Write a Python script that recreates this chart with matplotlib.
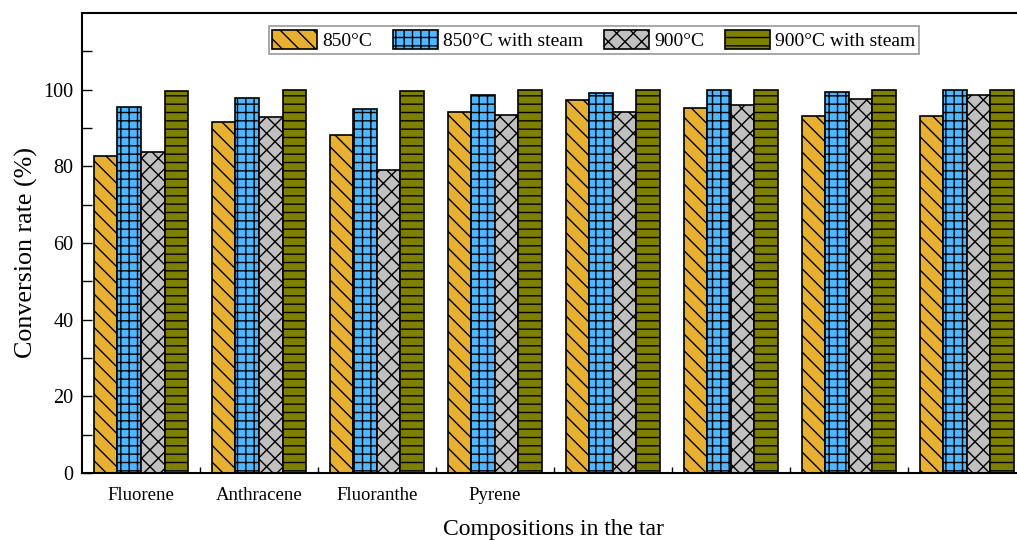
import matplotlib.pyplot as plt
import numpy as np

plt.rcParams['font.family'] = ['Liberation Serif', 'DejaVu Serif']
plt.rcParams['hatch.linewidth'] = 1.0
plt.rcParams['hatch.color'] = 'black'

# tar compositions (only the first four are named on the axis)
groups = ['Fluorene', 'Anthracene', 'Fluoranthe', 'Pyrene', '', '', '', '']
labels = ['850°C', '850°C with steam', '900°C', '900°C with steam']

conv_850 = [82.7, 91.6, 88.2, 94.2, 97.3, 95.2, 93.2, 93.1]
conv_850_steam = [95.4, 97.8, 95.0, 98.5, 99.0, 100.0, 99.3, 100.0]
conv_900 = [83.8, 92.9, 79.0, 93.4, 94.1, 96.1, 97.5, 98.7]
conv_900_steam = [99.6, 99.8, 99.6, 99.8, 100.0, 100.0, 100.0, 100.0]

series = [conv_850, conv_850_steam, conv_900, conv_900_steam]
colors = ['#E8B030', '#4DB8FF', '#C0C0C0', '#808000']
hatches = ['\\\\', '++', 'xx', '--']

fig = plt.figure(figsize=(10.17, 5.4), dpi=100)
ax = fig.add_axes([0.0806, 0.124, 0.928, 0.852])

x = np.arange(len(groups))
w = 0.2
for i, (vals, c, h, lab) in enumerate(zip(series, colors, hatches, labels)):
    ax.bar(x + (i - 1.5) * w, vals, w, color=c, edgecolor='black',
           linewidth=1.2, hatch=h, label=lab)

ax.set_xlim(-0.5, len(groups) - 0.5)
ax.set_ylim(0, 120)
ax.set_yticks([0, 20, 40, 60, 80, 100])
ax.set_yticks(np.arange(10, 120, 20), minor=True)
ax.set_xticks(x)
ax.set_xticklabels(groups, fontsize=13.5)
ax.set_xticks(np.arange(0.5, len(groups) - 0.5, 1), minor=True)
ax.tick_params(axis='x', which='major', length=0, pad=10)
ax.tick_params(axis='x', which='minor', direction='in', length=4, width=1)
ax.tick_params(axis='y', which='both', direction='in', width=1,
               length=7, labelsize=14.5, pad=6)
for s in ax.spines.values():
    s.set_linewidth(1.5)
ax.spines['right'].set_visible(False)

ax.set_xlabel('Compositions in the tar', fontsize=17, labelpad=11)
ax.set_ylabel('Conversion rate (%)', fontsize=18.7)
ax.yaxis.set_label_coords(-0.047, 0.48)

leg = ax.legend(ncol=4, loc='upper right', bbox_to_anchor=(0.887, 0.971),
                fontsize=14, frameon=True, fancybox=False, edgecolor='#808080',
                handlelength=2.3, handleheight=1.13, columnspacing=1.1,
                handletextpad=0.25, borderpad=0.2, borderaxespad=0.0)
leg.get_frame().set_linewidth(1.2)

fig.savefig('out.png', dpi=100)
